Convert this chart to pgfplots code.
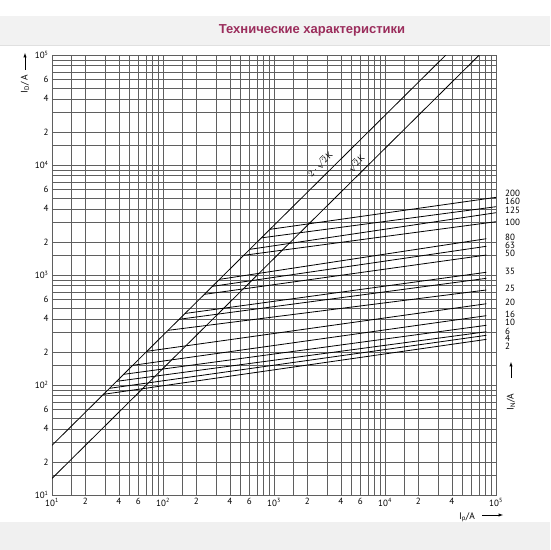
\documentclass[border=0pt]{standalone}
\usepackage{pgfplots}
\pgfplotsset{compat=1.18}
\usepackage{fontspec}
\setmainfont{PT Sans}
\newfontfamily\titlefont{Liberation Sans}
\definecolor{titlecol}{RGB}{155,45,92}
\definecolor{gridc}{RGB}{95,95,95}
\begin{document}
\begin{tikzpicture}
\path[use as bounding box] (-52pt,-55pt) rectangle (498pt,495pt);
\fill[black!5] (-52pt,450pt) rectangle (498pt,479pt);
\draw[black!12] (-52pt,450pt) -- (498pt,450pt);
\fill[black!6] (-52pt,-27pt) rectangle (498pt,-55pt);
\node[font=\titlefont\bfseries\fontsize{13}{15}\selectfont, text=titlecol] at (260pt,465pt) {Технические характеристики};
\begin{axis}[at={(0,0)}, anchor=south west, scale only axis,
  width=444pt, height=440pt,
  xmode=log, ymode=log,
  xmin=10, xmax=1e5, ymin=10, ymax=1e5,
  xtick={10,20,40,60,100,200,400,600,1000,2000,4000,6000,10000,20000,40000,100000},
  xticklabels={10\textsuperscript{1},2,4,6,10\textsuperscript{2},2,4,6,10\textsuperscript{3},2,4,6,10\textsuperscript{4},2,4,10\textsuperscript{5}},
  minor xtick={15,30,50,70,80,90,150,300,500,700,800,900,1500,3000,5000,7000,8000,9000,15000,30000,50000,60000,70000,80000,90000},
  ytick={10,20,40,60,100,200,400,600,1000,2000,4000,6000,10000,20000,40000,60000,100000},
  yticklabels={10\textsuperscript{1},2,4,6,10\textsuperscript{2},2,4,6,10\textsuperscript{3},2,4,6,10\textsuperscript{4},2,4,6,10\textsuperscript{5}},
  minor ytick={15,30,50,70,80,90,150,300,500,700,800,900,1500,3000,5000,7000,8000,9000,15000,30000,50000,70000,80000,90000},
  grid=both,
  major grid style={gridc, line width=0.5pt},
  minor grid style={gridc, line width=0.5pt},
  major tick length=0pt, minor tick length=0pt,
  axis line style={gridc, line width=0.6pt},
  ticklabel style={font=\fontsize{9}{10}\selectfont},
]
% diagonals
\addplot[black, line width=0.8pt] coordinates {(10,28.28) (35355,100000)};
\addplot[black, line width=0.8pt] coordinates {(10,14.14) (70711,100000)};
% cut-off current lines I_N
\addplot[black, line width=0.8pt] coordinates {(920,2602) (100000,5082)};   % 200
\addplot[black, line width=0.8pt] coordinates {(769,2175) (100000,4178)};   % 160
\addplot[black, line width=0.8pt] coordinates {(605,1711) (100000,3684)};   % 125
\addplot[black, line width=0.8pt] coordinates {(534,1510) (100000,3052)};   % 100
\addplot[black, line width=0.8pt] coordinates {(323,913) (82000,2138)};     % 80
\addplot[black, line width=0.8pt] coordinates {(279,789) (82000,1824)};     % 63
\addplot[black, line width=0.8pt] coordinates {(236,667) (82000,1520)};     % 50
\addplot[black, line width=0.8pt] coordinates {(158,447) (82000,1059)};     % 35
\addplot[black, line width=0.8pt] coordinates {(140,396) (82000,933)};      % 32
\addplot[black, line width=0.8pt] coordinates {(111,314) (82000,731)};      % 25
\addplot[black, line width=0.8pt] coordinates {(71.6,202.5) (82000,548)};   % 20
\addplot[black, line width=0.8pt] coordinates {(53.4,151) (82000,427)};     % 16
\addplot[black, line width=0.8pt] coordinates {(44.2,125) (82000,349)};     % 10
\addplot[black, line width=0.8pt] coordinates {(38.2,108) (82000,305)};     % 6
\addplot[black, line width=0.8pt] coordinates {(33,93.3) (82000,283)};      % 4
\addplot[black, line width=0.8pt] coordinates {(29.1,82.3) (82000,260)};    % 2
\end{axis}
% diagonal labels
\node[rotate=44.7, inner sep=0pt, font=\fontsize{9}{10}\selectfont] at (268pt,331pt) {$2\cdot\sqrt{2}\,$K};
\node[rotate=44.7, inner sep=0pt, font=\fontsize{9}{10}\selectfont] at (304pt,332pt) {$\sqrt{2}\,$K};
% I_N labels
\begin{scope}[every node/.style={anchor=west, inner sep=0pt, font=\fontsize{9}{9}\selectfont}]
\node at (453pt,301.7pt) {200};
\node at (453pt,293.3pt) {160};
\node at (453pt,284.3pt) {125};
\node at (453pt,272.7pt) {100};
\node at (453pt,257.7pt) {80};
\node at (453pt,250pt) {63};
\node at (453pt,241.7pt) {50};
\node at (453pt,223.3pt) {35};
\node at (453pt,206.7pt) {25};
\node at (453pt,192.7pt) {20};
\node at (453pt,181pt) {16};
\node at (453pt,172.3pt) {10};
\node at (453pt,164pt) {6};
\node at (453pt,156.3pt) {4};
\node at (453pt,148.3pt) {2};
\end{scope}
% axis labels
\node[font=\fontsize{9.5}{10}\selectfont] at (415pt,-22pt) {I\textsubscript{p}/A};
\draw[-latex, line width=0.5pt] (430pt,-20pt) -- (451pt,-20pt);
\node[rotate=90, font=\fontsize{9.5}{10}\selectfont] at (-27pt,411pt) {I\textsubscript{D}/ A};
\draw[-latex, line width=0.5pt] (-27pt,425pt) -- (-27pt,442pt);
\node[rotate=90, font=\fontsize{9.5}{10}\selectfont] at (459pt,93pt) {I\textsubscript{N}/A};
\draw[-latex, line width=0.5pt] (459pt,117pt) -- (459pt,133pt);
\end{tikzpicture}
\end{document}
